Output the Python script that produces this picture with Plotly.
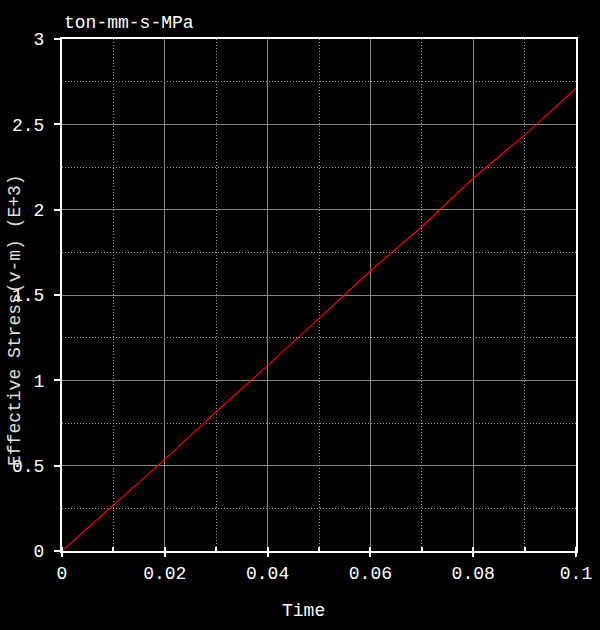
import plotly.graph_objects as go

time = [0.0, 0.01, 0.02, 0.03, 0.04, 0.05, 0.06, 0.07, 0.08, 0.09, 0.10]
stress = [0.0, 0.27, 0.537, 0.816, 1.086, 1.363, 1.641, 1.900, 2.184, 2.437, 2.711]

x_ticks = [0, 0.02, 0.04, 0.06, 0.08, 0.1]
x_labels = ["0", "0.02", "0.04", "0.06", "0.08", "0.1"]
y_ticks = [0, 0.5, 1, 1.5, 2, 2.5, 3]
y_labels = ["0", "0.5", "1", "1.5", "2", "2.5", "3"]

FONT = "Liberation Mono"

fig = go.Figure()
fig.add_trace(go.Scatter(x=time, y=stress, mode="lines",
                         line=dict(color="#ff0000", width=1.2), showlegend=False))

axis_common = dict(
    showline=True, linecolor="white", linewidth=2, mirror=True,
    showgrid=True, gridcolor="#888888", gridwidth=1, automargin=False,
    zeroline=False, ticks="outside", tickcolor="white", tickwidth=2,
    tickfont=dict(family=FONT, size=18, color="white"),
)

fig.update_layout(
    width=600, height=630,
    paper_bgcolor="black", plot_bgcolor="black",
    margin=dict(l=62, r=24, t=39, b=79),
    xaxis=dict(range=[0, 0.1], tickvals=x_ticks, ticktext=x_labels, ticklen=4,
               minor=dict(dtick=0.01, tick0=0, showgrid=True, gridcolor="#a0a0a0",
                          griddash="1px,2px", ticks="inside", ticklen=4, tickcolor="white"),
               **axis_common),
    yaxis=dict(range=[0, 3], tickvals=y_ticks, ticktext=y_labels, ticklen=6,
               ticklabelstandoff=6,
               minor=dict(dtick=0.25, tick0=0, showgrid=True, gridcolor="#a0a0a0",
                          griddash="1px,2px", ticks="", tickcolor="white"),
               **axis_common),
    annotations=[
        dict(text="ton-mm-s-MPa", xref="paper", yref="paper", x=0, y=1,
             xanchor="left", yanchor="bottom", yshift=4, showarrow=False,
             font=dict(family=FONT, size=18, color="white")),
        dict(text="Effective Stress(v-m) (E+3)", xref="paper", yref="paper",
             x=(15 - 62) / 514, y=(551 - 320) / 512, xanchor="center", yanchor="middle",
             textangle=-90, showarrow=False,
             font=dict(family=FONT, size=18, color="#e0e0e0")),
        dict(text="Time", xref="paper", yref="paper",
             x=(303 - 62) / 514, y=(551 - 611) / 512, xanchor="center", yanchor="middle",
             showarrow=False, font=dict(family=FONT, size=18, color="white")),
    ],
)

fig.write_html(
    "out.html",
    config={"displayModeBar": False},
    post_script="document.body.style.margin='0';document.body.style.background='black';",
)
